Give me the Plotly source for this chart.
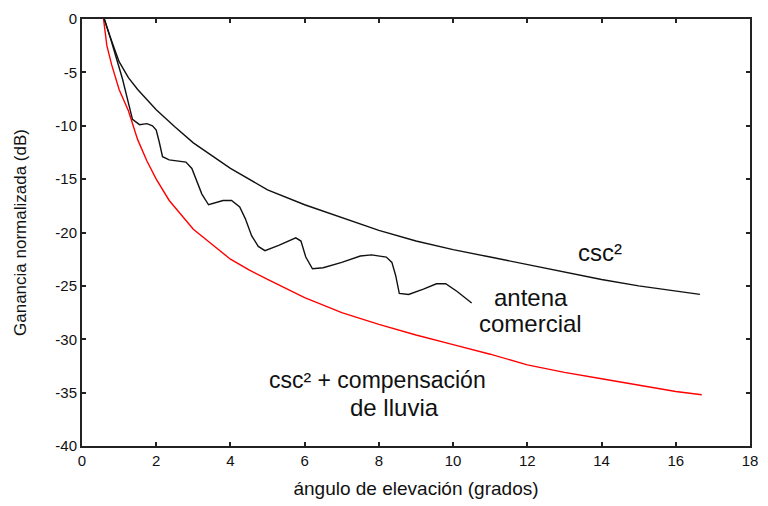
import plotly.graph_objects as go

# csc^2 curve
csc_x = [0.6, 0.75, 1.0, 1.25, 1.5, 2.0, 2.5, 3.0, 4.0, 5.0, 6.0, 7.0, 8.0, 9.0, 10, 11, 12, 13, 14, 15, 16, 16.65]
csc_y = [0, -1.6, -4.0, -5.5, -6.6, -8.5, -10.1, -11.6, -14.0, -16.0, -17.4, -18.6, -19.8, -20.8, -21.6, -22.3, -23.0, -23.7, -24.4, -25.0, -25.5, -25.8]

# csc^2 + rain compensation
rain_x = [0.58, 0.67, 0.8, 1.0, 1.25, 1.5, 1.75, 2.0, 2.35, 2.75, 3.0, 3.5, 4.0, 4.5, 5.0, 6.0, 7.0, 8.0, 9.0, 10, 11, 12, 13, 14, 15, 16, 16.7]
rain_y = [0, -2.5, -4.3, -6.6, -8.6, -11.3, -13.3, -15.0, -17.0, -18.7, -19.7, -21.1, -22.5, -23.5, -24.4, -26.1, -27.5, -28.6, -29.6, -30.5, -31.4, -32.4, -33.1, -33.7, -34.3, -34.9, -35.2]

# commercial antenna
ant_x = [0.6, 0.75, 1.09, 1.36, 1.55, 1.75, 1.9, 2.0, 2.08, 2.17, 2.35, 2.8, 2.96, 3.06, 3.23, 3.41, 3.6, 3.8, 4.03, 4.25, 4.4, 4.57, 4.75, 4.93, 5.3, 5.6, 5.76, 5.9, 6.03, 6.21, 6.5, 7.0, 7.5, 7.8, 8.2, 8.35, 8.45, 8.55, 8.8, 9.2, 9.55, 9.8, 10.1, 10.5]
ant_y = [0, -1.6, -5.6, -9.4, -9.9, -9.8, -10.0, -10.4, -11.5, -12.9, -13.2, -13.4, -14.0, -14.9, -16.4, -17.4, -17.2, -17.0, -17.0, -17.6, -18.7, -20.3, -21.3, -21.7, -21.2, -20.7, -20.5, -20.8, -22.3, -23.4, -23.3, -22.8, -22.2, -22.1, -22.3, -22.8, -24.0, -25.7, -25.8, -25.3, -24.8, -24.8, -25.5, -26.6]

x_ticks = [0, 2, 4, 6, 8, 10, 12, 14, 16, 18]
y_ticks = [0, -5, -10, -15, -20, -25, -30, -35, -40]

FONT = "Liberation Sans, Arial, sans-serif"

fig = go.Figure()
fig.add_trace(go.Scatter(x=rain_x, y=rain_y, mode="lines", line=dict(color="#ff0000", width=1.4)))
fig.add_trace(go.Scatter(x=csc_x, y=csc_y, mode="lines", line=dict(color="#111111", width=1.4)))
fig.add_trace(go.Scatter(x=ant_x, y=ant_y, mode="lines", line=dict(color="#111111", width=1.4)))

labels = [
    (13.95, -21.9, "csc²", 24),
    (12.11, -26.07, "antena", 24),
    (12.08, -28.48, "comercial", 24),
    (7.97, -33.86, "csc² + compensación", 23),
    (8.43, -36.36, "de lluvia", 24),
]
for lx, ly, txt, sz in labels:
    fig.add_annotation(x=lx, y=ly, text=txt, showarrow=False,
                       font=dict(family=FONT, size=sz, color="#111111"))

axis_common = dict(
    showgrid=False, zeroline=False, showline=True, linecolor="#222222", linewidth=2,
    mirror="ticks", ticks="inside", ticklen=4, tickwidth=1.5, tickcolor="#222222",
    tickfont=dict(family=FONT, size=15, color="#111111"),
)
fig.update_xaxes(range=[0, 18], tickvals=x_ticks, ticktext=[str(v) for v in x_ticks],
                 title=dict(text="ángulo de elevación (grados)", standoff=14,
                            font=dict(family=FONT, size=19, color="#111111")),
                 **axis_common)
fig.update_yaxes(range=[-40, 0], tickvals=y_ticks, ticktext=[str(v) for v in y_ticks],
                 title=dict(text="Ganancia normalizada (dB)", standoff=24,
                            font=dict(family=FONT, size=17, color="#111111")),
                 **axis_common)
fig.update_layout(
    width=768, height=506, showlegend=False,
    margin=dict(l=82, r=10, t=15, b=59),
    paper_bgcolor="white", plot_bgcolor="white",
)
fig.write_html("out.html")
